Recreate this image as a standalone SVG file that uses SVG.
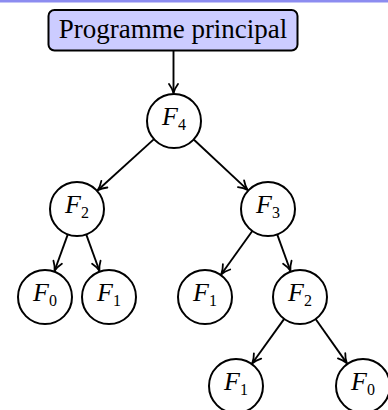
<svg xmlns="http://www.w3.org/2000/svg" width="388" height="410" viewBox="0 0 388 410">
  <style>
    .node circle { fill: #ffffff; stroke: #000000; stroke-width: 2; }
    .lbl { font-family: "Liberation Serif", "DejaVu Serif", serif; font-size: 26px; text-anchor: middle; fill: #000000; }
    .lbl .f { font-style: italic; }
    .lbl .s { font-size: 16px; font-style: normal; }
    .edges line { stroke: #000000; stroke-width: 1.9; marker-end: url(#arrow); }
    .root rect { fill: #ccccff; stroke: #000000; stroke-width: 2; }
    .root text { font-family: "Liberation Serif", "DejaVu Serif", serif; font-size: 27px; text-anchor: middle; fill: #000000; }
  </style>
  <defs>
    <marker id="arrow" viewBox="0 0 12 12" refX="10.5" refY="6" markerWidth="12" markerHeight="12" markerUnits="userSpaceOnUse" orient="auto">
      <path d="M1.5,1.5 Q6,4.8 10.5,6 Q6,7.2 1.5,10.5" fill="none" stroke="#000000" stroke-width="1.8" stroke-linecap="round" stroke-linejoin="round"/>
    </marker>
  </defs>

  <!-- top rule -->
  <rect x="0" y="0" width="388" height="2.5" fill="#8c8cf0"/>

  <!-- connectors -->
  <g id="edges" class="edges">
    <line x1="173.5" y1="51" x2="173.5" y2="93"/>
    <line x1="154.0" y1="139.1" x2="97.7" y2="190.2"/>
    <line x1="193.7" y1="139.5" x2="247.6" y2="189.9"/>
    <line x1="67.8" y1="234.4" x2="54.6" y2="270.7"/>
    <line x1="86.2" y1="234.4" x2="99.4" y2="270.7"/>
    <line x1="252.3" y1="231.0" x2="221.3" y2="274.2"/>
    <line x1="277.2" y1="234.4" x2="290.4" y2="270.7"/>
    <line x1="284.2" y1="318.9" x2="252.3" y2="363.3"/>
    <line x1="315.6" y1="319.0" x2="346.8" y2="363.1"/>
  </g>

  <!-- root box -->
  <g id="main" class="root">
    <rect x="48.5" y="10" width="249" height="40.5" rx="6" ry="6"/>
    <text x="173" y="37.5">Programme principal</text>
  </g>

  <!-- call tree -->
  <g id="f4" class="node">
    <circle cx="174" cy="121" r="27"/>
    <text class="lbl" x="174" y="125"><tspan class="f">F</tspan><tspan class="s" dy="5">4</tspan></text>
  </g>
  <g id="f2a" class="node">
    <circle cx="77" cy="209" r="27"/>
    <text class="lbl" x="77" y="213"><tspan class="f">F</tspan><tspan class="s" dy="5">2</tspan></text>
  </g>
  <g id="f3" class="node">
    <circle cx="268" cy="209" r="27"/>
    <text class="lbl" x="268" y="213"><tspan class="f">F</tspan><tspan class="s" dy="5">3</tspan></text>
  </g>
  <g id="f0a" class="node">
    <circle cx="45" cy="297" r="27"/>
    <text class="lbl" x="45" y="301"><tspan class="f">F</tspan><tspan class="s" dy="5">0</tspan></text>
  </g>
  <g id="f1a" class="node">
    <circle cx="109" cy="297" r="27"/>
    <text class="lbl" x="109" y="301"><tspan class="f">F</tspan><tspan class="s" dy="5">1</tspan></text>
  </g>
  <g id="f1b" class="node">
    <circle cx="205" cy="297" r="27"/>
    <text class="lbl" x="205" y="301"><tspan class="f">F</tspan><tspan class="s" dy="5">1</tspan></text>
  </g>
  <g id="f2b" class="node">
    <circle cx="300" cy="297" r="27"/>
    <text class="lbl" x="300" y="301"><tspan class="f">F</tspan><tspan class="s" dy="5">2</tspan></text>
  </g>
  <g id="f1c" class="node">
    <circle cx="236" cy="386" r="27"/>
    <text class="lbl" x="236" y="390"><tspan class="f">F</tspan><tspan class="s" dy="5">1</tspan></text>
  </g>
  <g id="f0b" class="node">
    <circle cx="363" cy="386" r="27"/>
    <text class="lbl" x="363" y="390"><tspan class="f">F</tspan><tspan class="s" dy="5">0</tspan></text>
  </g>
</svg>
